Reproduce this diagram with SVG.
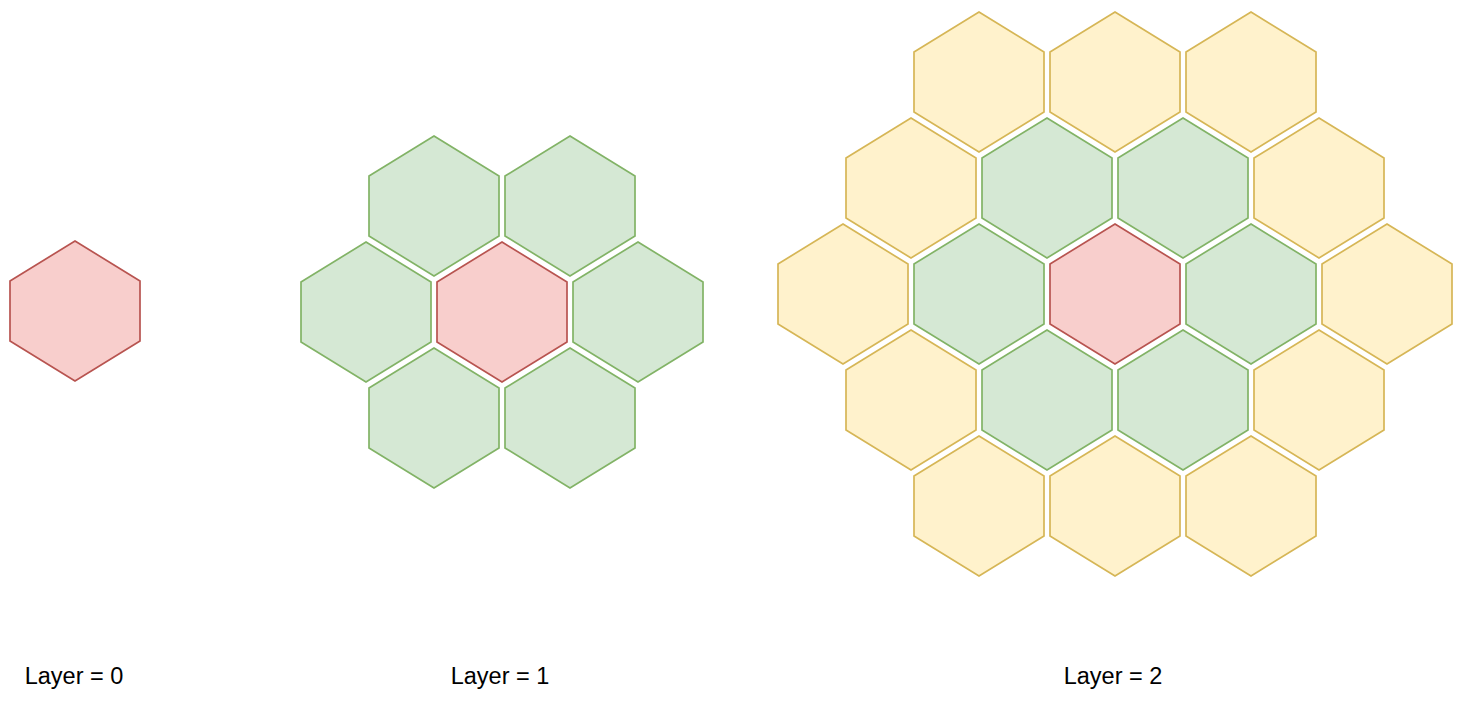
<svg xmlns="http://www.w3.org/2000/svg" width="1466" height="716" viewBox="0 0 1466 716">
<defs>
<polygon id="hex" points="65,0 130,40 130,100 65,140 0,100 0,40"/>
</defs>
<style>
.r{fill:#f8cecc;stroke:#b85450;stroke-width:1.7}
.g{fill:#d5e8d4;stroke:#82b366;stroke-width:1.7}
.y{fill:#fff2cc;stroke:#d6b656;stroke-width:1.7}
.t{font-family:"Liberation Sans",Arial,sans-serif;font-size:23.5px;fill:#000;text-anchor:middle}
</style>
<rect width="1466" height="716" fill="#fff"/>
<g id="layer0">
<use id="l0-center" href="#hex" class="r" x="10" y="241"/>
</g>
<g id="layer1">
<use id="l1-ul" href="#hex" class="g" x="369" y="136"/>
<use id="l1-ur" href="#hex" class="g" x="505" y="136"/>
<use id="l1-l" href="#hex" class="g" x="301" y="242"/>
<use id="l1-center" href="#hex" class="r" x="437" y="242"/>
<use id="l1-r" href="#hex" class="g" x="573" y="242"/>
<use id="l1-ll" href="#hex" class="g" x="369" y="348"/>
<use id="l1-lr" href="#hex" class="g" x="505" y="348"/>
</g>
<g id="layer2">
<use id="l2-a1" href="#hex" class="y" x="914" y="12"/>
<use id="l2-a2" href="#hex" class="y" x="1050" y="12"/>
<use id="l2-a3" href="#hex" class="y" x="1186" y="12"/>
<use id="l2-b1" href="#hex" class="y" x="846" y="118"/>
<use id="l2-b2" href="#hex" class="g" x="982" y="118"/>
<use id="l2-b3" href="#hex" class="g" x="1118" y="118"/>
<use id="l2-b4" href="#hex" class="y" x="1254" y="118"/>
<use id="l2-c1" href="#hex" class="y" x="778" y="224"/>
<use id="l2-c2" href="#hex" class="g" x="914" y="224"/>
<use id="l2-c3" href="#hex" class="r" x="1050" y="224"/>
<use id="l2-c4" href="#hex" class="g" x="1186" y="224"/>
<use id="l2-c5" href="#hex" class="y" x="1322" y="224"/>
<use id="l2-d1" href="#hex" class="y" x="846" y="330"/>
<use id="l2-d2" href="#hex" class="g" x="982" y="330"/>
<use id="l2-d3" href="#hex" class="g" x="1118" y="330"/>
<use id="l2-d4" href="#hex" class="y" x="1254" y="330"/>
<use id="l2-e1" href="#hex" class="y" x="914" y="436"/>
<use id="l2-e2" href="#hex" class="y" x="1050" y="436"/>
<use id="l2-e3" href="#hex" class="y" x="1186" y="436"/>
</g>
<g id="connectors"/>
<g id="labels">
<text class="t" x="74" y="684">Layer = 0</text>
<text class="t" x="500" y="684">Layer = 1</text>
<text class="t" x="1113" y="684">Layer = 2</text>
</g>
</svg>
